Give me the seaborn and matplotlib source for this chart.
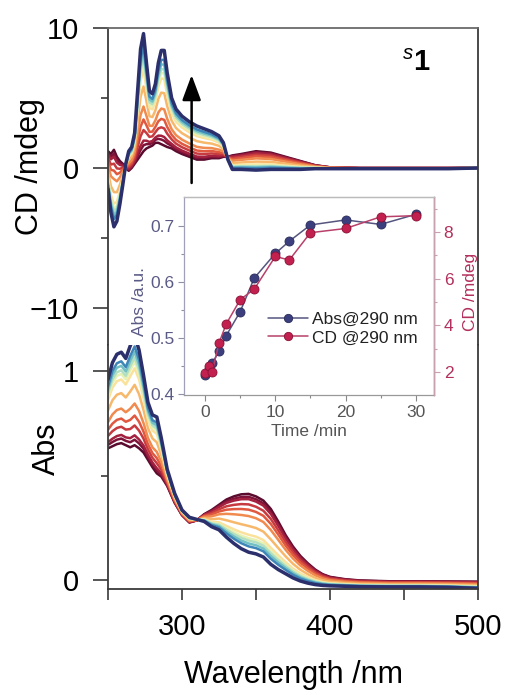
import numpy as np
import pandas as pd
import matplotlib
matplotlib.use("Agg")
import matplotlib.pyplot as plt
import seaborn as sns
from matplotlib.lines import Line2D
from matplotlib.ticker import FixedLocator

# ---------------- data ----------------
# absorption spectra: first (t = 0) and last (t = 30 min) curves
wl_abs = [250, 253, 256, 259, 262, 265, 268, 271, 274, 277, 280, 283, 286, 290, 295,
          300, 305, 310, 315, 320, 325, 330, 335, 340, 345, 350, 355, 360, 365, 370,
          375, 380, 385, 390, 395, 400, 410, 420, 440, 460, 480, 500]
abs_t0 = [0.63, 0.64, 0.65, 0.655, 0.645, 0.635, 0.645, 0.63, 0.61, 0.575, 0.54, 0.51,
          0.495, 0.45, 0.37, 0.31, 0.275, 0.285, 0.315, 0.335, 0.36, 0.385, 0.40, 0.41,
          0.412, 0.40, 0.38, 0.34, 0.28, 0.215, 0.16, 0.115, 0.08, 0.05, 0.028, 0.015,
          0.004, -0.002, -0.006, -0.006, -0.007, -0.008]
abs_t30 = [0.96, 1.04, 1.08, 1.09, 1.06, 1.12, 1.17, 1.10, 0.98, 0.85, 0.79, 0.78,
           0.68, 0.53, 0.415, 0.335, 0.30, 0.29, 0.28, 0.255, 0.24, 0.205, 0.175, 0.15,
           0.133, 0.125, 0.11, 0.075, 0.05, 0.03, 0.01, -0.005, -0.015, -0.022, -0.026,
           -0.028, -0.03, -0.032, -0.033, -0.033, -0.035, -0.04]

# CD spectra: first and last curves
wl_cd = [250, 252, 254, 256, 258, 260, 262, 264, 266, 268, 270, 272, 274, 276, 278,
         280, 282, 284, 286, 288, 290, 293, 296, 300, 305, 310, 315, 320, 325, 328,
         331, 334, 340, 350, 360, 370, 380, 390, 400, 420, 440, 460, 480, 500]
cd_t0 = [1.2, 1.0, 1.3, 0.8, 0.5, 0.3, 0.0, -0.2, 0.0, 0.3, 0.6, 0.9, 1.2, 1.4, 1.5,
         1.6, 1.8, 1.8, 1.7, 1.6, 1.5, 1.4, 1.2, 1.0, 0.8, 0.6, 0.6, 0.7, 0.7, 0.8,
         0.8, 0.9, 1.0, 1.2, 1.1, 0.8, 0.5, 0.2, 0.05, 0.0, 0.0, 0.0, 0.0, 0.0]
cd_t30 = [-1.5, -3.2, -4.2, -3.8, -2.6, -1.2, 0.3, 1.2, 1.5, 2.5, 5.5, 8.5, 9.6, 7.5, 5.5,
          5.3, 6.0, 7.5, 8.4, 8.4, 6.8, 5.0, 4.2, 3.7, 3.3, 3.0, 2.8, 2.6, 2.3, 1.8,
          0.6, -0.1, -0.1, -0.15, -0.1, -0.1, -0.1, -0.05, -0.05, -0.05, -0.05, -0.05,
          -0.05, 0.0]

# conversion of each recorded curve (position between first and last curve at 268 nm)
progress = [0.0, 0.05, 0.09, 0.18, 0.27, 0.38, 0.55, 0.70, 0.76, 0.80, 0.85, 0.90, 1.0]
curve_colors = ["#5a0b2e", "#7e1339", "#a3203f", "#c63a40", "#e0583f", "#f08a4e",
                "#f7b86c", "#fbe29c", "#e6f1b4", "#b2dfc2", "#72c0c4", "#3f86b8",
                "#2b2f6b"]

# inset: kinetics at 290 nm
time_min = [0, 0.5, 1, 2, 3, 5, 7, 10, 12, 15, 20, 25, 30]
abs290 = [0.433, 0.445, 0.455, 0.476, 0.504, 0.547, 0.607, 0.651, 0.673, 0.702, 0.711,
          0.703, 0.721]
cd290 = [1.95, 2.25, 2.0, 3.25, 4.05, 5.1, 5.55, 6.95, 6.8, 7.97, 8.15, 8.65, 8.7]

# ---------------- build tables ----------------
rows_abs, rows_cd = [], []
for i, p in enumerate(progress):
    a = np.array(abs_t0) + p * (np.array(abs_t30) - np.array(abs_t0))
    c = np.array(cd_t0) + p * (np.array(cd_t30) - np.array(cd_t0))
    rows_abs.append(pd.DataFrame({"wl": wl_abs, "val": a, "curve": i}))
    rows_cd.append(pd.DataFrame({"wl": wl_cd, "val": c, "curve": i}))
df_abs = pd.concat(rows_abs, ignore_index=True)
df_cd = pd.concat(rows_cd, ignore_index=True)
df_kin = pd.DataFrame({"t": time_min, "abs": abs290, "cd": cd290})

# ---------------- figure ----------------
sns.set_theme(style="white")
plt.rcParams["font.family"] = ["Liberation Sans", "DejaVu Sans"]
plt.rcParams["mathtext.fontset"] = "custom"
plt.rcParams["mathtext.rm"] = "Liberation Sans"
plt.rcParams["mathtext.it"] = "Liberation Sans:italic"
plt.rcParams["mathtext.bf"] = "Liberation Sans:bold"
plt.rcParams["text.color"] = "black"
plt.rcParams["axes.labelcolor"] = "black"
plt.rcParams["xtick.color"] = "black"
plt.rcParams["ytick.color"] = "black"

W, H = 505, 695
fig = plt.figure(figsize=(W / 100, H / 100), dpi=100)
fig.patch.set_facecolor("white")


def fy(px):
    return 1 - px / H


L, R = 108 / W, 478 / W
SPLIT = 345
ax_cd = fig.add_axes([L, fy(SPLIT), R - L, fy(28) - fy(SPLIT)])
ax_abs = fig.add_axes([L, fy(589), R - L, fy(SPLIT) - fy(589)])

pal = dict(enumerate(curve_colors))
sns.lineplot(data=df_cd, x="wl", y="val", hue="curve", palette=pal, estimator=None,
             lw=1.8, legend=False, ax=ax_cd)
sns.lineplot(data=df_abs, x="wl", y="val", hue="curve", palette=pal, estimator=None,
             lw=1.8, legend=False, ax=ax_abs)
for ax in (ax_cd, ax_abs):
    ax.lines[-1].set_linewidth(2.5)

ax_cd.set_xlim(250, 500)
ax_abs.set_xlim(250, 500)
ax_cd.set_ylim(10 - (SPLIT - 28) / 14.0, 10)
ax_abs.set_ylim(-9 / 209.0, (580 - SPLIT) / 209.0)

spine_c = "#3a3a3a"
for ax in (ax_cd, ax_abs):
    for s in ax.spines.values():
        s.set_color(spine_c)
        s.set_linewidth(1.3)
ax_cd.spines["bottom"].set_visible(False)
ax_cd.spines["top"].set_color("#6a6a6a")
ax_abs.spines["top"].set_visible(False)

ax_cd.yaxis.set_major_locator(FixedLocator([-10, 0, 10]))
ax_cd.yaxis.set_minor_locator(FixedLocator([-5, 5]))
ax_abs.yaxis.set_major_locator(FixedLocator([0, 1]))
ax_abs.yaxis.set_minor_locator(FixedLocator([0.5]))
ax_abs.xaxis.set_major_locator(FixedLocator([300, 400, 500]))
ax_abs.xaxis.set_minor_locator(FixedLocator([250, 350, 450]))
ax_abs.yaxis.set_major_formatter(matplotlib.ticker.FuncFormatter(lambda v, p: f"{v:g}"))

ax_cd.tick_params(axis="x", which="both", bottom=False, labelbottom=False)
for ax in (ax_cd, ax_abs):
    ax.tick_params(axis="y", which="major", left=True, direction="out", length=11,
                   width=1.2, color=spine_c, labelsize=21, pad=10, labelcolor="black")
    ax.tick_params(axis="y", which="minor", left=True, direction="out", length=5,
                   width=1.2, color=spine_c)
ax_abs.tick_params(axis="x", which="both", bottom=True, direction="out", length=8,
                   width=1.2, color=spine_c, labelsize=21, pad=9, labelcolor="black")

ax_cd.set_xlabel("")
ax_cd.set_ylabel("CD /mdeg", fontsize=22, color="black")
ax_cd.yaxis.set_label_coords((45 - 108) / 370, (SPLIT - 167) / (SPLIT - 28))
ax_abs.set_ylabel("Abs", fontsize=22, color="black")
ax_abs.yaxis.set_label_coords((62 - 108) / 370, (589 - 449) / (589 - SPLIT))
ax_abs.set_xlabel("Wavelength /nm", fontsize=22, color="black")
ax_abs.xaxis.set_label_coords(0.5, (589 - 660) / (589 - SPLIT))

# arrow and sample label
ax_cd.annotate("", xy=(306.5, 6.64), xytext=(306.5, -1.07),
               arrowprops=dict(arrowstyle="-|>,head_length=0.7,head_width=0.26",
                               lw=1.8, color="black", mutation_scale=22,
                               shrinkA=0, shrinkB=0))
ax_cd.text(458, 7.5, r"$^{\mathit{s}}\mathbf{1}$", fontsize=21, ha="center",
           va="center", color="black")

# ---------------- inset ----------------
ax_in = fig.add_axes([184 / W, fy(395), 250 / W, 198 / H])
ax_in.set_facecolor("white")
abs_c, abs_line = "#3c3f7e", "#55557f"
cd_c, cd_line = "#c2204f", "#b8406a"
sns.lineplot(data=df_kin, x="t", y="abs", ax=ax_in, color=abs_line, lw=1.1,
             marker="o", markersize=6.5, markerfacecolor=abs_c,
             markeredgecolor="#2a2c5a", markeredgewidth=0.6)
ax_in2 = ax_in.twinx()
sns.lineplot(data=df_kin, x="t", y="cd", ax=ax_in2, color=cd_line, lw=1.1,
             marker="o", markersize=6.5, markerfacecolor=cd_c,
             markeredgecolor="#8a1035", markeredgewidth=0.6)
ax_in.set_xlim(-3, 32.6)
ax_in.set_ylim(0.398, 0.752)
ax_in2.set_ylim(1.014, 9.5)

ax_in.xaxis.set_major_locator(FixedLocator([0, 10, 20, 30]))
ax_in.xaxis.set_minor_locator(FixedLocator([5, 15, 25]))
ax_in.yaxis.set_major_locator(FixedLocator([0.4, 0.5, 0.6, 0.7]))
ax_in.yaxis.set_minor_locator(FixedLocator([0.45, 0.55, 0.65]))
ax_in2.yaxis.set_major_locator(FixedLocator([2, 4, 6, 8]))
ax_in2.yaxis.set_minor_locator(FixedLocator([3, 5, 7, 9]))

left_c, right_c, bot_c = "#5a5a86", "#b3305e", "#555555"
ax_in.tick_params(axis="x", which="major", bottom=True, direction="out", length=4,
                  width=0.8, color="#888888", labelsize=12.5, labelcolor=bot_c, pad=3)
ax_in.tick_params(axis="x", which="minor", bottom=True, direction="out", length=2.5,
                  width=0.8, color="#888888")
ax_in.tick_params(axis="y", which="major", left=True, direction="out", length=4,
                  width=0.8, color="#9090a8", labelsize=12.5, labelcolor=left_c, pad=3)
ax_in.tick_params(axis="y", which="minor", left=True, direction="out", length=2.5,
                  width=0.8, color="#9090a8")
ax_in2.tick_params(axis="y", which="major", right=True, direction="out", length=4,
                   width=0.8, color="#c8a0b0", labelsize=12.5, labelcolor=right_c, pad=3)
ax_in2.tick_params(axis="y", which="minor", right=True, direction="out", length=2.5,
                   width=0.8, color="#c8a0b0")

for s in ("left", "bottom", "top", "right"):
    ax_in.spines[s].set_linewidth(0.9)
    ax_in2.spines[s].set_linewidth(0.9)
ax_in.spines["left"].set_color("#a0a0b8")
ax_in.spines["bottom"].set_color("#999999")
ax_in.spines["top"].set_color("#bbbbbb")
ax_in2.spines["top"].set_color("#bbbbbb")
ax_in2.spines["right"].set_color("#c8a0b0")
ax_in2.spines["left"].set_visible(False)
ax_in2.spines["bottom"].set_visible(False)

ax_in.set_xlabel("Time /min", fontsize=12.5, color=bot_c, labelpad=3)
ax_in.set_ylabel("Abs /a.u.", fontsize=12.5, color=left_c)
ax_in.yaxis.set_label_coords((147 - 184) / 250, 0.47)
ax_in2.set_ylabel("CD /mdeg", fontsize=12.5, color=right_c)
ax_in2.yaxis.set_label_coords((463 - 184) / 250, 0.52)

handles = [
    Line2D([], [], color=abs_line, lw=1.1, marker="o", markersize=6,
           markerfacecolor=abs_c, markeredgecolor="#2a2c5a", markeredgewidth=0.6),
    Line2D([], [], color=cd_line, lw=1.1, marker="o", markersize=6,
           markerfacecolor=cd_c, markeredgecolor="#8a1035", markeredgewidth=0.6),
]
leg = ax_in2.legend(handles, ["Abs@290 nm", "CD @290 nm"], loc="center left",
                    bbox_to_anchor=((268 - 184) / 250, (395 - 328.5) / 198),
                    frameon=False, fontsize=12.5, handlelength=2.3,
                    handletextpad=0.25, labelspacing=0.2, borderpad=0,
                    borderaxespad=0)
for t in leg.get_texts():
    t.set_color("#222222")

fig.savefig("out.png", dpi=100, facecolor="white")
